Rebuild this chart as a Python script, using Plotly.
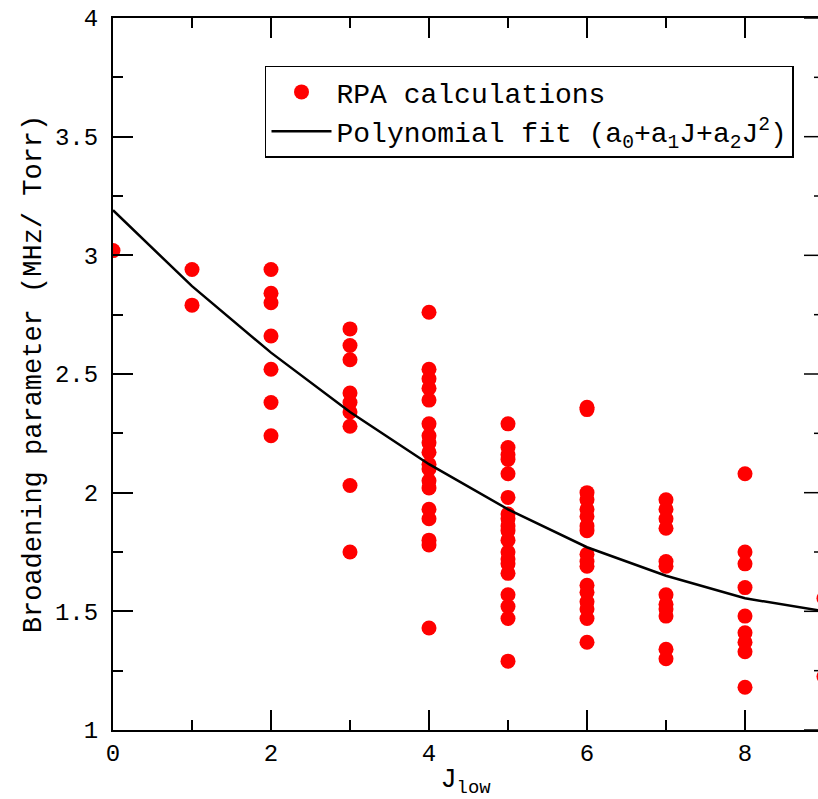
import plotly.graph_objects as go

# RPA calculations
j0 = [3.02]
j1 = [2.94, 2.79]
j2 = [2.94, 2.84, 2.80, 2.66, 2.52, 2.38, 2.24]
j3 = [2.69, 2.62, 2.56, 2.42, 2.38, 2.34, 2.28, 2.03, 1.75]
j4 = [2.76, 2.52, 2.48, 2.44, 2.39, 2.29, 2.24, 2.21, 2.17, 2.12, 2.10,
      2.05, 2.02, 1.93, 1.89, 1.80, 1.78, 1.43]
j5 = [2.29, 2.19, 2.16, 2.14, 2.08, 1.98, 1.91, 1.89, 1.86, 1.84, 1.80,
      1.75, 1.72, 1.70, 1.66, 1.57, 1.52, 1.47, 1.29]
j6 = [2.36, 2.35, 2.00, 1.97, 1.93, 1.90, 1.86, 1.84, 1.74, 1.71, 1.69,
      1.61, 1.58, 1.54, 1.51, 1.47, 1.37]
j7 = [1.97, 1.93, 1.89, 1.85, 1.71, 1.69, 1.57, 1.53, 1.51, 1.48, 1.34, 1.30]
j8 = [2.08, 1.75, 1.70, 1.60, 1.48, 1.41, 1.37, 1.33, 1.18]
j9 = [1.555, 1.225]
groups = [j0, j1, j2, j3, j4, j5, j6, j7, j8, j9]

# Polynomial fit, sampled at integer J
fit_j = [0, 1, 2, 3, 4, 5, 6, 7, 8, 9, 10]
fit_vals = [3.19, 2.87, 2.59, 2.34, 2.12, 1.93, 1.77, 1.65, 1.555, 1.50, 1.47]

x_pts, y_pts = [], []
for j, vals in enumerate(groups):
    x_pts += [j] * len(vals)
    y_pts += vals

FONT = "Liberation Mono, Courier New, monospace"

fig = go.Figure()
fig.add_trace(go.Scatter(
    x=x_pts, y=y_pts, mode="markers", name="RPA calculations",
    marker=dict(color="#ff0000", size=15, line=dict(width=0)),
    cliponaxis=True,
))
fig.add_trace(go.Scatter(
    x=fit_j, y=fit_vals, mode="lines",
    name="Polynomial fit (a<sub>0</sub>+a<sub>1</sub>J+a<sub>2</sub>J<sup>2</sup>)",
    line=dict(color="black", width=2.5),
))

# right-side ticks (axis itself is just past the picture edge)
for k in range(7):
    v = 1 + 0.5 * k
    fig.add_shape(type="line", xref="paper", yref="y", x0=0.9801, x1=1.0,
                  y0=v, y1=v, line=dict(color="black", width=1.5))
for k in range(6):
    v = 1.25 + 0.5 * k
    fig.add_shape(type="line", xref="paper", yref="y", x0=0.9943, x1=1.0,
                  y0=v, y1=v, line=dict(color="black", width=1.5))

fig.update_layout(
    width=818, height=799, autosize=False,
    margin=dict(l=113, r=0, t=18, b=69),
    paper_bgcolor="white", plot_bgcolor="white",
    font=dict(family=FONT, color="black", size=24),
    showlegend=True,
    legend=dict(
        x=0.2156, y=0.933, xanchor="left", yanchor="top",
        bordercolor="black", borderwidth=1.5, bgcolor="white",
        font=dict(family=FONT, size=28),
        itemwidth=60, tracegroupgap=0,
    ),
    xaxis=dict(
        range=[0, 8.924], showgrid=False, zeroline=False,
        showline=True, linecolor="black", linewidth=2, mirror="ticks",
        ticks="inside", ticklen=20, tickwidth=1.5, tickcolor="black",
        dtick=2, tick0=0,
        minor=dict(ticks="inside", ticklen=10, dtick=1, tickcolor="black", tickwidth=1.5),
        tickfont=dict(family=FONT, size=24),
        title=dict(text="J<sub>low</sub>", font=dict(family=FONT, size=27), standoff=3),
    ),
    yaxis=dict(
        range=[1, 4], showgrid=False, zeroline=False,
        showline=True, linecolor="black", linewidth=2, mirror=False,
        ticks="inside", ticklen=20, tickwidth=1.5, tickcolor="black",
        dtick=0.5, tick0=1,
        minor=dict(ticks="inside", ticklen=10, dtick=0.25, tickcolor="black", tickwidth=1.5),
        tickfont=dict(family=FONT, size=24),
        ticklabelstandoff=8,
        title=dict(text="Broadening parameter (MHz/ Torr)", font=dict(family=FONT, size=27), standoff=6),
    ),
)

fig.write_html("out.html")
